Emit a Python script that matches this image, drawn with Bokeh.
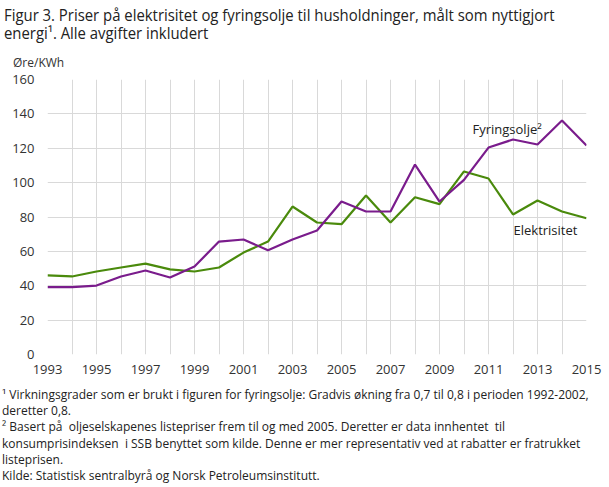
from bokeh.plotting import figure
from bokeh.models import Range1d, FixedTicker, Label, Div
from bokeh.layouts import column
from bokeh.embed import file_html
from bokeh.resources import INLINE

years = list(range(1993, 2016))
fyringsolje = [39.2, 39.2, 40.1, 45.4, 48.9, 44.8, 51.2, 65.7, 66.9, 60.7, 66.9, 72.1,
               89.0, 83.2, 83.2, 110.5, 89.0, 101.6, 120.4, 125.1, 122.2, 136.1, 121.6]
elektrisitet = [46.0, 45.4, 48.3, 50.6, 52.9, 49.5, 48.3, 50.6, 59.3, 65.7, 86.1, 76.8,
                75.8, 92.5, 76.8, 91.5, 87.5, 106.5, 102.4, 81.5, 89.6, 83.2, 79.3]
y_ticks = [0, 20, 40, 60, 80, 100, 120, 140, 160]
x_label_ticks = list(range(1993, 2016, 2))

title_lines = ["Figur 3. Priser på elektrisitet og fyringsolje til husholdninger, målt som nyttigjort",
               "energi¹. Alle avgifter inkludert"]
unit_label = "Øre/KWh"
footnotes = ["¹ Virkningsgrader som er brukt i figuren for fyringsolje: Gradvis økning fra 0,7 til 0,8 i perioden 1992-2002,",
             "deretter 0,8.",
             "² Basert på  oljeselskapenes listepriser frem til og med 2005. Deretter er data innhentet  til",
             "konsumprisindeksen  i SSB benyttet som kilde. Denne er mer representativ ved at rabatter er fratrukket",
             "listeprisen.",
             "Kilde: Statistisk sentralbyrå og Norsk Petroleumsinstitutt."]
series_names = ["Fyringsolje²", "Elektrisitet"]

PURPLE = "#7a1c8c"
GREEN = "#4a8a0c"
SANS = "'Open Sans', sans-serif"

W = 609
HEADER_H = 70
FIG_H = 314
FOOT_H = 487 - HEADER_H - FIG_H


def block(lines, left, first_center_y, size, color, lh, scale=1.0):
    top = first_center_y - lh / 2.0
    tf = f"transform:scaleX({scale});transform-origin:0 50%;" if scale != 1.0 else ""
    return (f'<div style="position:absolute;left:{left}px;top:{top}px;font-family:{SANS};'
            f'font-size:{size}px;line-height:{lh}px;color:{color};white-space:pre;{tf}">'
            + "<br>".join(lines) + '</div>')


header_html = (f'<div style="position:relative;width:{W}px;height:{HEADER_H}px;">'
               + block(title_lines, 4, 15, 16, "#222222", 18, 0.93)
               + block([unit_label], 13, 63, 12, "#333333", 14)
               + '</div>')
header = Div(text=header_html, width=W, height=HEADER_H, margin=0)

LH = 16.3
foot_html = (f'<div style="position:relative;width:{W}px;height:{FOOT_H}px;">'
             + block(footnotes, 2, 395 - (HEADER_H + FIG_H), 12, "#222222", LH)
             + '</div>')
footer = Div(text=foot_html, width=W, height=FOOT_H, margin=0)

p = figure(width=W, height=FIG_H, output_backend="svg", toolbar_location=None,
           x_range=Range1d(1993, 2015), y_range=Range1d(0, 160),
           min_border_left=47, min_border_right=23, min_border_top=9, min_border_bottom=30)
p.outline_line_color = None
p.background_fill_color = "white"
p.border_fill_color = "white"

p.xaxis.ticker = FixedTicker(ticks=x_label_ticks)
p.yaxis.ticker = FixedTicker(ticks=y_ticks)
p.xgrid.ticker = FixedTicker(ticks=years)
p.ygrid.ticker = FixedTicker(ticks=y_ticks)
for g in (p.xgrid, p.ygrid):
    g.grid_line_color = "#d9d9d9"
    g.grid_line_width = 1
for ax in (p.xaxis, p.yaxis):
    ax.axis_line_color = None
    ax.major_tick_line_color = None
    ax.minor_tick_line_color = None
    ax.major_tick_out = 0
    ax.major_tick_in = 0
    ax.major_label_text_font = "Open Sans"
    ax.major_label_text_font_size = "13px"
    ax.major_label_text_color = "#333333"
p.yaxis.major_label_standoff = 13
p.xaxis.major_label_standoff = 10

p.line(years, elektrisitet, line_color=GREEN, line_width=2.2)
p.line(years, fyringsolje, line_color=PURPLE, line_width=2.2)

# frame bottom-left at page (47, 354)
FX, FY = 47.0, 354.0


def add_text(text, x, y, size, color="#222222"):
    p.add_layout(Label(x=x - FX, y=FY - y, x_units="screen", y_units="screen", text=text,
                       text_font="Open Sans", text_font_size=size, text_color=color,
                       text_align="left", text_baseline="middle"))


add_text(series_names[0], 472, 128, "13px")
add_text(series_names[1], 513, 229, "13px")

layout = column(header, p, footer, spacing=0)
open("out.html", "w").write(file_html(layout, INLINE))
